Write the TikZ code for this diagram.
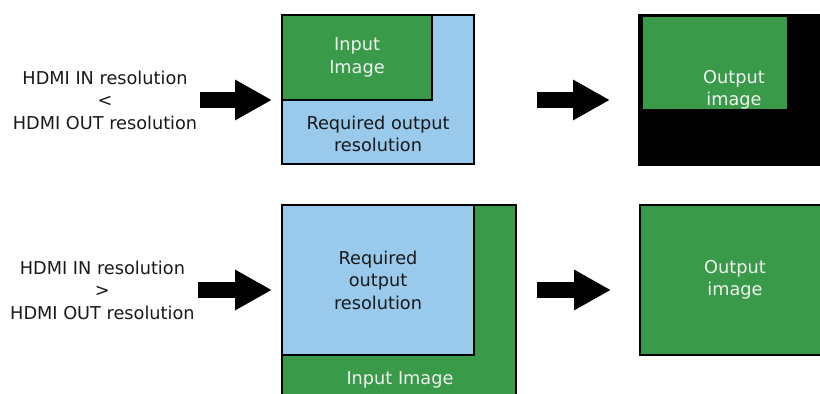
\documentclass[tikz,border=0pt]{standalone}
\usepackage{fontspec}
\setmainfont{DejaVu Sans}
\usetikzlibrary{arrows.meta}
\definecolor{imggreen}{RGB}{57,154,74}
\definecolor{reqblue}{RGB}{153,201,235}
\tikzset{boxnode/.style={shape=rectangle, draw=black, line width=1.5pt, anchor=north west, inner sep=0pt, outer sep=0pt, align=center, font=\fontsize{12.6}{16}\selectfont}}
\tikzset{darktext/.style={text=black!90, align=center, inner sep=0pt, font=\fontsize{12.6}{16}\selectfont}}
\tikzset{lighttext/.style={text=white!94!black, align=center, inner sep=0pt, font=\fontsize{12.6}{16}\selectfont}}
\tikzset{fatarrow/.style={line width=0.4cm, -{Triangle[length=0.925cm,width=0.95cm]}}}
\begin{document}
\begin{tikzpicture}
\useasboundingbox (0,0) rectangle (20.5,9.85);
\clip (0,0) rectangle (20.5,9.85);
\node[style=darktext] (cond1) at (2.625,7.35) {HDMI IN resolution\\<\\HDMI OUT resolution};
\node[style=boxnode, fill=reqblue, minimum width=4.8cm, minimum height=3.725cm] (req1) at (7.05,9.475) {};
\node[style=boxnode, fill=imggreen, text=white!94!black, minimum width=3.75cm, minimum height=2.125cm] (in1) at (7.05,9.475) {Input\\Image};
\node[style=darktext] (reqtxt1) at (9.45,6.5) {Required output\\resolution};
\node[style=boxnode, fill=black, minimum width=6cm, minimum height=3.75cm] (out1) at (15.975,9.475) {};
\fill[color=imggreen] (16.075,9.425) rectangle (19.675,7.125);
\node[style=lighttext] (outtxt1) at (18.35,7.6) {Output\\image};
\draw[fatarrow, shorten <=2pt, shorten >=0.25cm] (cond1.east) -- (cond1.east -| req1.west);
\draw[fatarrow, shorten <=1.575cm, shorten >=0.725cm] (cond1.east -| req1.east) -- (cond1.east -| out1.west);

\node[style=darktext] (cond2) at (2.56,2.6) {HDMI IN resolution\\>\\HDMI OUT resolution};
\node[style=boxnode, fill=imggreen, minimum width=5.85cm, minimum height=5cm] (in2) at (7.05,4.725) {};
\node[style=boxnode, fill=reqblue, text=black!90, minimum width=4.8cm, minimum height=3.75cm] (req2) at (7.05,4.725) {Required\\output\\resolution};
\node[style=lighttext] (intxt2) at (10.0,0.35) {Input Image};
\node[style=boxnode, fill=imggreen, minimum width=6cm, minimum height=3.75cm] (out2) at (16.0,4.725) {};
\node[style=lighttext] (outtxt2) at (18.375,2.85) {Output\\image};
\draw[fatarrow, shorten <=2pt, shorten >=0.25cm] (cond2.east) -- (cond2.east -| req2.west);
\draw[fatarrow, shorten <=0.525cm, shorten >=0.725cm] (cond2.east -| in2.east) -- (cond2.east -| out2.west);
\end{tikzpicture}
\end{document}
